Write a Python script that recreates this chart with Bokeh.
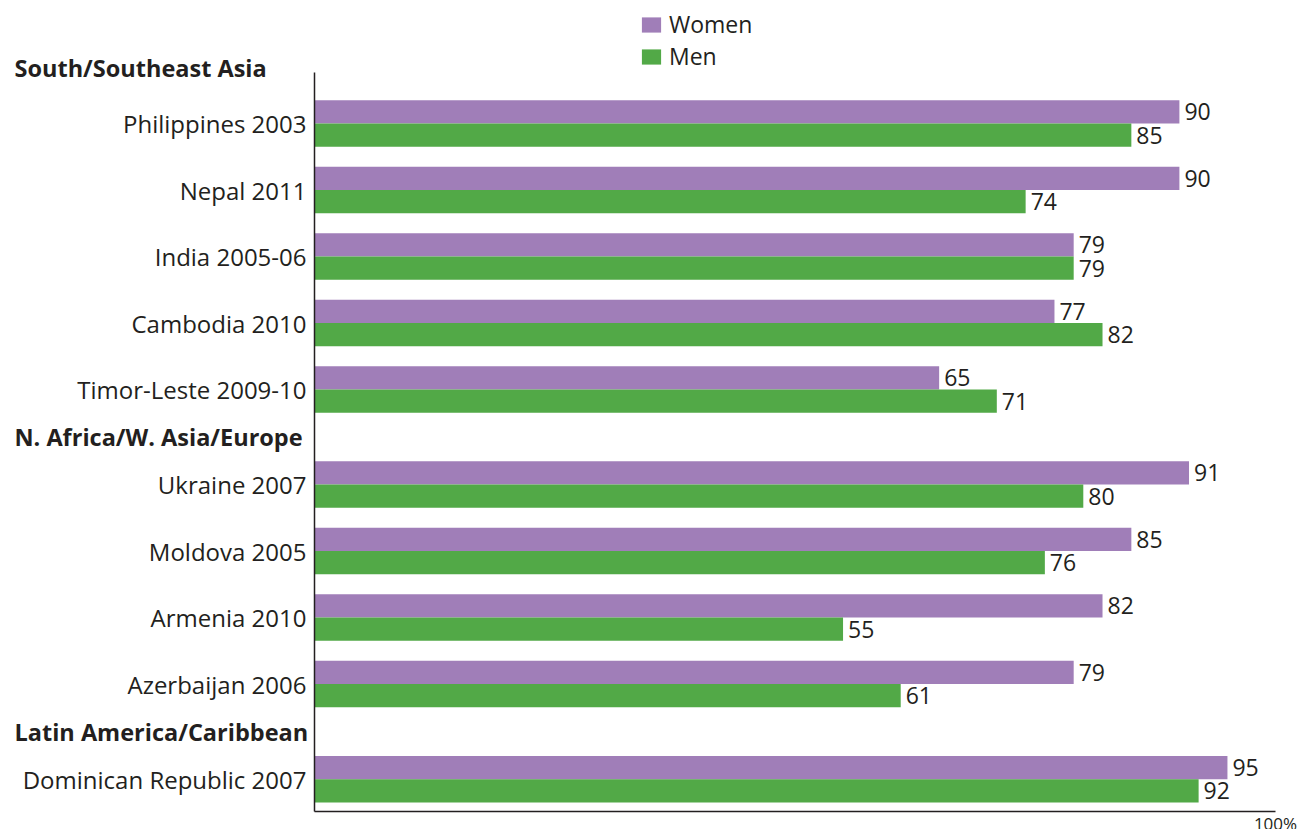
from bokeh.plotting import figure
from bokeh.models import Range1d, Legend, LegendItem, ColumnDataSource, FixedTicker
from bokeh.embed import file_html
from bokeh.resources import INLINE
from bokeh.core.properties import value

groups = ["South/Southeast Asia", "N. Africa/W. Asia/Europe", "Latin America/Caribbean"]
group_countries = [
    ["Philippines 2003", "Nepal 2011", "India 2005-06", "Cambodia 2010", "Timor-Leste 2009-10"],
    ["Ukraine 2007", "Moldova 2005", "Armenia 2010", "Azerbaijan 2006"],
    ["Dominican Republic 2007"],
]
women = [90, 90, 79, 77, 65, 91, 85, 82, 79, 95]
men = [85, 74, 79, 82, 71, 80, 76, 55, 61, 92]
x_end = 100
x_end_label = "100%"

PURPLE = "#a07eb8"
GREEN = "#52a947"
TXT = "#231f20"
FONT = "Open Sans"

W, H = 1300, 829
PX_X = 9.61       # px per percent
PX_Y = 66.5       # px per row
X0_PX = 314       # x=0 position on canvas
Y0_PX = 123       # first row position on canvas

# layout of rows (in row units)
country_y = []
header_y = []
pos = 0.0
for gi, cl in enumerate(group_countries):
    if gi == 0:
        header_y.append(pos - 0.80)
    else:
        pos += 0.75
        header_y.append(pos)
        pos += 0.68
    for j, c in enumerate(cl):
        if j > 0:
            pos += 1.0
        country_y.append(pos)

countries = [c for cl in group_countries for c in cl]
BH = 0.35
y_top = -0.767
y_bot = country_y[-1] + 0.48

p = figure(width=W, height=H, output_backend="svg", toolbar_location=None,
           x_range=Range1d(-X0_PX / PX_X, (W - X0_PX) / PX_X),
           y_range=Range1d((H - Y0_PX) / PX_Y, -Y0_PX / PX_Y),
           min_border=0, min_border_left=0, min_border_right=0,
           min_border_top=0, min_border_bottom=0)
p.grid.visible = False
p.outline_line_color = None
p.background_fill_color = "white"

src = ColumnDataSource(dict(
    y_w=[y - BH / 2 for y in country_y], y_m=[y + BH / 2 for y in country_y],
    women=women, men=men,
    wl=[str(v) for v in women], ml=[str(v) for v in men]))

rw = p.hbar(y="y_w", right="women", left=0, height=BH, source=src, fill_color=PURPLE, line_color=None)
rm = p.hbar(y="y_m", right="men", left=0, height=BH, source=src, fill_color=GREEN, line_color=None)

for col, ycol, tcol in (("women", "y_w", "wl"), ("men", "y_m", "ml")):
    p.text(x=col, y=ycol, text=tcol, source=src, x_offset=5,
           text_align="left", text_baseline="middle", text_font=value(FONT),
           text_font_size="23px", text_color=TXT)

# group headers
hsrc = ColumnDataSource(dict(x=[p.x_range.start + 14 / PX_X] * len(groups), y=header_y, t=groups))
p.text(x="x", y="y", text="t", source=hsrc, text_align="left", text_baseline="middle",
       y_offset=-2,
       text_font=value(FONT), text_font_size="23.5px", text_font_style="bold", text_color=TXT)

# "100%" at the end of the x axis, just below the axis line
esrc = ColumnDataSource(dict(x=[x_end], y=[y_bot], t=[x_end_label]))
p.text(x="x", y="y", text="t", source=esrc, text_align="center", text_baseline="top",
       y_offset=1, text_font=value(FONT), text_font_size="17px", text_color=TXT)

# y axis
ya = p.yaxis[0]
ya.fixed_location = 0
ya.bounds = (y_top, y_bot)
ya.ticker = FixedTicker(ticks=country_y)
ya.major_label_overrides = {y: c for y, c in zip(country_y, countries)}
ya.major_tick_line_color = None
ya.minor_tick_line_color = None
ya.major_label_standoff = 2
ya.major_label_text_font = FONT
ya.major_label_text_font_size = "24px"
ya.major_label_text_color = TXT
ya.axis_line_color = TXT
ya.axis_line_width = 1.5

xa = p.xaxis[0]
xa.fixed_location = y_bot
xa.bounds = (0, x_end)
xa.ticker = FixedTicker(ticks=[])
xa.major_tick_line_color = None
xa.minor_tick_line_color = None
xa.major_label_text_font_size = "0px"
xa.axis_line_color = TXT
xa.axis_line_width = 1.5

legend = Legend(items=[LegendItem(label="Women", renderers=[rw]),
                       LegendItem(label="Men", renderers=[rm])],
                location=(639, H - 72), orientation="vertical",
                label_text_font=FONT, label_text_font_size="23px", label_text_color=TXT,
                glyph_width=24, glyph_height=19, label_height=19, label_standoff=6,
                spacing=0, padding=0, margin=0,
                border_line_color=None, background_fill_alpha=0)
p.add_layout(legend, "center")

open("out.html", "w").write(file_html(p, INLINE))
